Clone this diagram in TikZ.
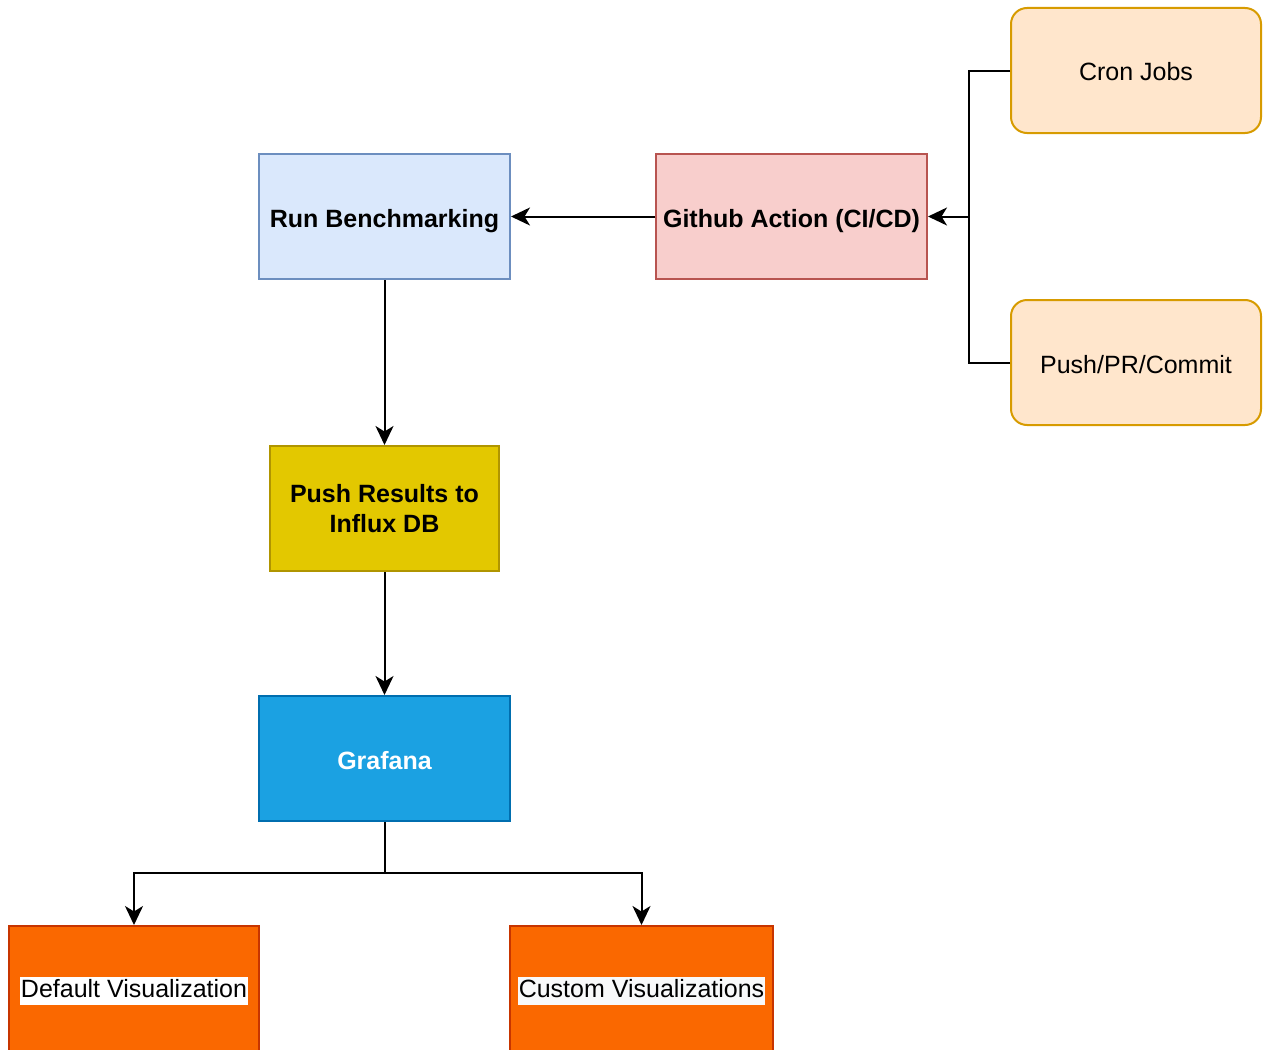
\documentclass[tikz,border=0pt]{standalone}
\usepackage{fontspec}
\setmainfont{Liberation Sans}
\usetikzlibrary{arrows.meta}
\definecolor{cronfill}{HTML}{FFE6CC}\definecolor{crondraw}{HTML}{D79B00}
\definecolor{ghfill}{HTML}{F8CECC}\definecolor{ghdraw}{HTML}{B85450}
\definecolor{rbfill}{HTML}{DAE8FC}\definecolor{rbdraw}{HTML}{6C8EBF}
\definecolor{prfill}{HTML}{E3C800}\definecolor{prdraw}{HTML}{B09500}
\definecolor{grfill}{HTML}{1BA1E2}\definecolor{grdraw}{HTML}{006EAF}
\definecolor{vifill}{HTML}{FA6800}\definecolor{vidraw}{HTML}{C73500}
\definecolor{lbg}{HTML}{F8F9FA}
\tikzset{
  box/.style={draw, line width=2pt, minimum height=125pt, inner sep=0pt, align=center,
    font=\fontsize{25}{30}\selectfont},
  oneline/.style={text height=22pt, text depth=1pt},
  bbox/.style={box, oneline, font=\fontsize{25}{30}\selectfont\bfseries},
  trig/.style={box, oneline, fill=cronfill, draw=crondraw, rounded corners=16pt, minimum width=250pt},
  vlabel/.style={inner sep=1pt, text height=20pt, text depth=6pt, font=\fontsize{25}{30}\selectfont},
  conn/.style={line width=2pt, -{Stealth[length=19pt,width=18pt,inset=5.5pt]}},
  plain/.style={line width=2pt}
}
\begin{document}
\begin{tikzpicture}[x=1pt,y=-1pt]
\useasboundingbox (0,0) rectangle (1265,1049);
\node[trig] (cron) at (1136,70.5) {Cron Jobs};
\node[trig] (push) at (1136,362.5) {Push/PR/Commit};
\node[bbox, fill=ghfill, draw=ghdraw, minimum width=271pt] (gh) at (791.5,216.5) {Github Action (CI/CD)};
\node[bbox, fill=rbfill, draw=rbdraw, minimum width=251pt] (rb) at (384.5,216.5) {Run Benchmarking};
\node[box, fill=prfill, draw=prdraw, minimum width=229pt, font=\fontsize{25}{30}\selectfont\bfseries] (pr) at (384.5,508.5) {Push Results to\\Influx DB};
\node[bbox, fill=grfill, draw=grdraw, minimum width=251pt, text=white] (gr) at (384.5,758.5) {Grafana};
\node[box, fill=vifill, draw=vidraw, minimum width=250pt] (dv) at (134,988.5) {};
\node[vlabel, fill=white, yshift=-2pt] (dvt) at (dv.center) {Default Visualization};
\node[box, fill=vifill, draw=vidraw, minimum width=263pt] (cv) at (641.5,988.5) {};
\node[vlabel, fill=lbg, yshift=-2pt] (cvt) at (cv.center) {Custom Visualizations};
\coordinate (j) at (969,216.5);
\draw[plain] (cron.west) -| (j);
\draw[plain] (push.west) -| (j);
\draw[conn] (j) -- (gh.east);
\draw[conn] (gh.west) -- (rb.east);
\draw[conn] (rb.south) -- (pr.north);
\draw[conn] (pr.south) -- (gr.north);
\coordinate (k) at (384.5,873);
\draw[plain] (gr.south) -- (k);
\draw[conn] (k) -| (dv.north);
\draw[conn] (k) -| (cv.north);
\end{tikzpicture}
\end{document}
